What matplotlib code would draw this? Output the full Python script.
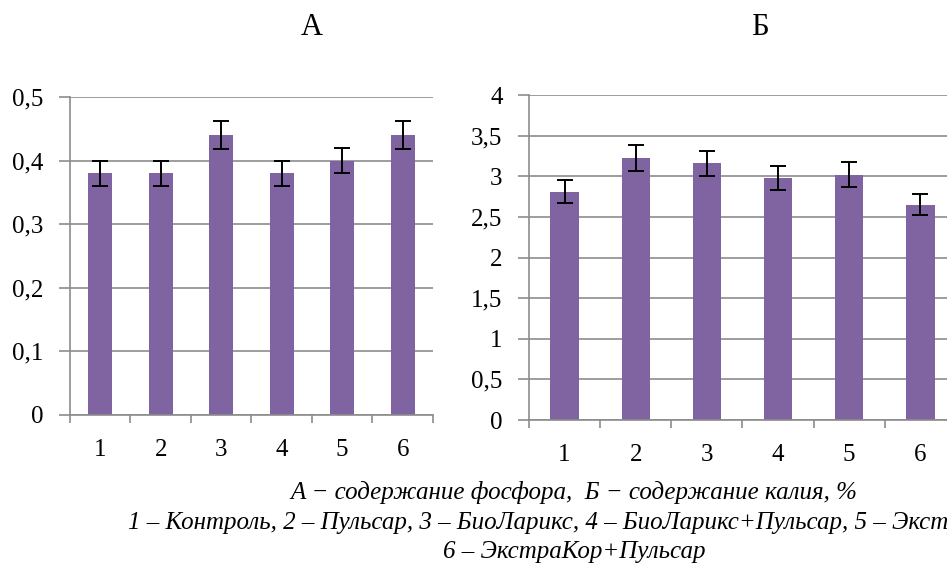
import matplotlib.pyplot as plt
from matplotlib.ticker import FuncFormatter, FixedLocator

# data
categories = ["1", "2", "3", "4", "5", "6"]
phosphorus = [0.38, 0.38, 0.44, 0.38, 0.40, 0.44]
phosphorus_err = [0.02, 0.02, 0.022, 0.02, 0.02, 0.022]
potassium = [2.81, 3.22, 3.16, 2.98, 3.02, 2.65]
potassium_err = [0.14, 0.16, 0.155, 0.15, 0.15, 0.13]

bar_color = "#8064A2"
grid_color = "#8c8c8c"
serif = "Liberation Serif"

fig = plt.figure(figsize=(9.47, 5.65), dpi=100)
ax_a = fig.add_axes([0.0739, 0.2655, 0.3833, 0.5628])
ax_b = fig.add_axes([0.5586, 0.2566, 0.4509, 0.5752])


def comma(v, pos):
    s = f"{v:g}"
    return s.replace(".", ",")


def style_axes(ax, values, errors, ymax, ystep):
    x = range(len(values))
    ax.bar(x, values, width=0.4, color=bar_color, zorder=2)
    ax.errorbar(x, values, yerr=errors, fmt="none", ecolor="black",
                elinewidth=1.4, capsize=5.5, capthick=1.4, zorder=3)
    ax.set_xlim(-0.5, len(values) - 0.5)
    ax.set_ylim(0, ymax)
    n = int(round(ymax / ystep))
    ax.yaxis.set_major_locator(FixedLocator([i * ystep for i in range(n + 1)]))
    ax.yaxis.set_major_formatter(FuncFormatter(comma))
    ax.grid(axis="y", color=grid_color, linewidth=1.2, zorder=0)
    ax.set_axisbelow(True)
    for side in ["top", "right"]:
        ax.spines[side].set_visible(False)
    for side in ["left", "bottom"]:
        ax.spines[side].set_color(grid_color)
        ax.spines[side].set_linewidth(1.2)
    # ticks at category boundaries, labels at centres
    ax.xaxis.set_major_locator(FixedLocator([i - 0.5 for i in range(len(values) + 1)]))
    ax.xaxis.set_minor_locator(FixedLocator(list(x)))
    ax.set_xticklabels([])
    ax.set_xticklabels(categories, minor=True)
    ax.tick_params(axis="x", which="major", length=6, width=1.2, color=grid_color)
    ax.tick_params(axis="x", which="minor", length=0, pad=17)
    ax.tick_params(axis="y", length=8, width=1.2, color=grid_color, pad=11)
    for lbl in ax.get_xticklabels(minor=True) + ax.get_yticklabels():
        lbl.set_fontfamily(serif)
        lbl.set_fontsize(18)


style_axes(ax_a, phosphorus, phosphorus_err, 0.5, 0.1)
style_axes(ax_b, potassium, potassium_err, 4, 0.5)

fig.text(312 / 947, 1 - 35 / 565, "А", ha="center", va="baseline",
         fontfamily=serif, fontsize=22)
fig.text(760 / 947, 1 - 35 / 565, "Б", ha="center", va="baseline",
         fontfamily=serif, fontsize=22)

caption = [
    "А − содержание фосфора,  Б − содержание калия, %",
    "1 – Контроль, 2 – Пульсар, 3 – БиоЛарикс, 4 – БиоЛарикс+Пульсар, 5 – ЭкстраКор,",
    "6 – ЭкстраКор+Пульсар",
]
baselines = [499, 528.5, 558]
for line, base in zip(caption, baselines):
    fig.text(574 / 947, 1 - base / 565, line, ha="center", va="baseline",
             fontfamily=serif, fontstyle="italic", fontsize=18)

fig.savefig("out.png", dpi=100)
